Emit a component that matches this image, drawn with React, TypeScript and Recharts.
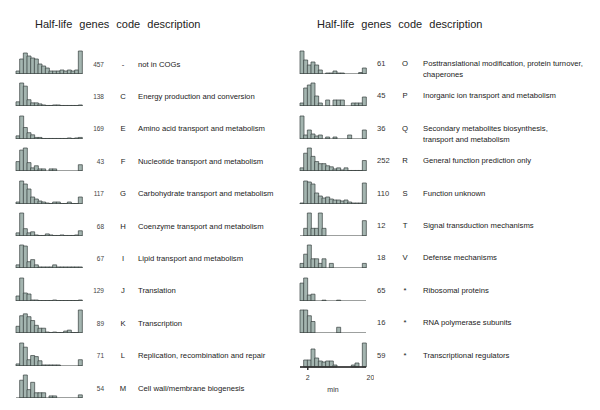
import { Bar, BarChart, ReferenceLine, XAxis, YAxis } from "recharts";

// bins of one minute, 2..20 min
const binStarts = [2, 3, 4, 5, 6, 7, 8, 9, 10, 11, 12, 13, 14, 15, 16, 17, 18, 19];

// left column
const notInCogs = [3, 15, 21, 18, 16, 15, 10, 8, 6, 3, 3, 3, 4, 3, 4, 3, 4, 23];
const energy = [4, 22, 19, 6, 3, 3, 2, 1, 0.5, 0.5, 1, 1, 0.5, 0.5, 0.5, 0.5, 0.5, 1];
const aminoAcid = [3, 22, 11, 6, 4, 1.5, 1.5, 0.5, 0.5, 0.5, 0.5, 0.5, 0.5, 0.5, 1, 0.5, 1, 1.5];
const nucleotide = [9, 20, 22, 8, 3, 5, 2, 2, 0, 2, 2, 0, 0, 0, 0, 0, 0, 6];
const carbohydrate = [2, 23, 20, 15, 7, 5, 3, 2, 1, 0.5, 2, 2, 0.5, 0.5, 2, 0.5, 0.5, 7];
const coenzyme = [3, 22, 7, 3, 4, 1, 0.5, 0.5, 2, 1, 0.5, 0.5, 1, 0.5, 0.5, 0.5, 1, 5];
const lipid = [3, 22, 21, 6, 8, 3, 1, 1, 1, 1, 3, 1, 1, 1, 1, 1, 1, 1];
const translation = [5, 23, 8, 7, 1, 1, 0.5, 0.5, 0.5, 0.5, 1, 0.5, 0.5, 0.5, 0.5, 0.5, 0.5, 1];
const transcription = [7, 18, 20, 17, 13, 8, 5, 5, 1, 0.5, 1, 0.5, 0.5, 2, 3, 0.5, 0.5, 24];
const replication = [2, 22, 18, 6, 10, 9, 5, 1, 1, 1, 1, 1, 0, 0, 0, 0, 0, 6];
const cellWall = [0, 17, 22, 8, 15, 5, 5, 5, 0, 2, 2, 0, 0, 0, 0, 0, 0, 3];

// right column
const posttranslational = [23, 14, 9, 12, 9, 4, 0, 1, 1, 3, 1, 1, 0, 0, 0, 0, 1.5, 6];
const inorganicIon = [3, 18, 21, 23, 10, 3, 0, 6, 0, 6, 6, 6, 0, 0, 3, 3, 3, 9];
const secondary = [23, 4, 9, 5, 3, 4, 0, 2, 0, 2, 0, 0, 0, 4, 0, 0, 0, 9];
const generalPrediction = [3, 17, 22, 14, 9, 7, 7, 5, 4, 2, 3, 1, 3, 0.5, 0.5, 0.5, 0.5, 10];
const functionUnknown = [1, 23, 22, 20, 11, 8, 6, 7, 5, 4, 4, 3, 4, 2, 1, 1, 1, 21];
const signal = [0, 1, 3, 1, 1, 3, 1, 0, 0, 0, 0, 0, 0, 0, 0, 0, 0, 2];
const defense = [1, 3, 5, 2, 2, 1, 2, 0, 1, 0, 0, 0, 0, 0, 0, 0, 0, 1];
const ribosomal = [21, 27, 7, 8, 0, 0, 1, 0, 0, 0, 1, 0, 0, 0, 0, 0, 0, 0];
const rnaPolymerase = [4, 4, 3, 2, 0, 0, 0, 0, 0, 0, 1, 0, 0, 0, 0, 0, 0, 0];
const regulators = [0, 7, 7, 18, 9, 6, 5, 6, 6, 2, 0, 0, 0, 0, 2, 4, 0, 24];

const leftCounts = ["457", "138", "169", "43", "117", "68", "67", "129", "89", "71", "54"];
const leftCodes = ["-", "C", "E", "F", "G", "H", "I", "J", "K", "L", "M"];
const leftDescriptions = [
  "not in COGs",
  "Energy production and conversion",
  "Amino acid transport and metabolism",
  "Nucleotide transport and metabolism",
  "Carbohydrate transport and metabolism",
  "Coenzyme transport and metabolism",
  "Lipid transport and metabolism",
  "Translation",
  "Transcription",
  "Replication, recombination and repair",
  "Cell wall/membrane biogenesis",
];
const leftBins = [notInCogs, energy, aminoAcid, nucleotide, carbohydrate, coenzyme, lipid, translation, transcription, replication, cellWall];

const rightCounts = ["61", "45", "36", "252", "110", "12", "18", "65", "16", "59"];
const rightCodes = ["O", "P", "Q", "R", "S", "T", "V", "*", "*", "*"];
const rightDescriptions = [
  ["Posttranslational modification, protein turnover,", "chaperones"],
  ["Inorganic ion transport and metabolism"],
  ["Secondary metabolites biosynthesis,", "transport and metabolism"],
  ["General function prediction only"],
  ["Function unknown"],
  ["Signal transduction mechanisms"],
  ["Defense mechanisms"],
  ["Ribosomal proteins"],
  ["RNA polymerase subunits"],
  ["Transcriptional regulators"],
];
const rightBins = [posttranslational, inorganicIon, secondary, generalPrediction, functionUnknown, signal, defense, ribosomal, rnaPolymerase, regulators];

const FONT = "'Liberation Sans', Arial, sans-serif";
const ROW0 = 74;
const ROW_STEP = 32.4;
const H = 24;
const PAD = 8;

function Histogram({ values, x, bottom, showAxis }: { values: number[]; x: number; bottom: number; showAxis?: boolean }) {
  const data = binStarts.map((b, i) => ({ bin: b, n: values[i] }));
  const h = showAxis ? H + 26 : H;
  return (
    <div style={{ position: "absolute", left: x - PAD, top: bottom - H, width: 66 + PAD * 2, height: h }}>
      <BarChart
        width={66 + PAD * 2}
        height={h}
        data={data}
        margin={{ top: 1, right: PAD, left: PAD, bottom: 0 }}
        barCategoryGap={0}
        barGap={0}
      >
        <XAxis dataKey="bin" hide height={0} />
        {showAxis && (
          <XAxis
            xAxisId="num"
            type="number"
            domain={[2, 20]}
            ticks={[2, 20]}
            tickSize={3}
            height={25}
            stroke="#333"
            strokeWidth={1.5}
            tick={{ fontSize: 7, fill: "#333", fontFamily: FONT, dy: 3 }}
            label={{ value: "min", position: "insideBottom", offset: 0, fontSize: 7, fill: "#333", fontFamily: FONT }}
          />
        )}
        <YAxis hide domain={[0, "dataMax"]} />
        <ReferenceLine y={0} stroke="#3a403e" strokeWidth={1} ifOverflow="extendDomain" />
        <Bar dataKey="n" fill="#a4b5b0" stroke="#38413f" strokeWidth={0.7} isAnimationActive={false} />
      </BarChart>
    </div>
  );
}

const textBase: React.CSSProperties = { position: "absolute", fontFamily: FONT, whiteSpace: "nowrap", lineHeight: "11px", color: "#222" };

export default function App() {
  return (
    <div style={{ position: "absolute", left: 0, top: 0, width: 600, height: 410, background: "#fff", fontFamily: FONT }}>
      <div style={{ ...textBase, left: 35, top: 17, fontSize: 11, lineHeight: "14px", wordSpacing: 4 }}>
        Half-life genes code description
      </div>
      <div style={{ ...textBase, left: 317, top: 17, fontSize: 11, lineHeight: "14px", wordSpacing: 4 }}>
        Half-life genes code description
      </div>

      {leftBins.map((vals, i) => {
        const bottom = ROW0 + i * ROW_STEP;
        const ty = bottom - 15.5;
        return (
          <div key={"l" + i}>
            <Histogram values={vals} x={16} bottom={bottom} />
            <div style={{ ...textBase, left: 84, width: 20, textAlign: "right", top: ty, fontSize: 6.5, color: "#444" }}>{leftCounts[i]}</div>
            <div style={{ ...textBase, left: 118, width: 10, textAlign: "center", top: ty, fontSize: 7.7 }}>{leftCodes[i]}</div>
            <div style={{ ...textBase, left: 138, top: ty, fontSize: 7.7 }}>{leftDescriptions[i]}</div>
          </div>
        );
      })}

      {rightBins.map((vals, i) => {
        const bottom = ROW0 + i * ROW_STEP;
        const ty = bottom - 16;
        return (
          <div key={"r" + i}>
            <Histogram values={vals} x={300} bottom={bottom} showAxis={i === rightBins.length - 1} />
            <div style={{ ...textBase, left: 377, top: ty, fontSize: 7.6, color: "#333" }}>{rightCounts[i]}</div>
            <div style={{ ...textBase, left: 400, width: 10, textAlign: "center", top: ty, fontSize: 7.7 }}>{rightCodes[i]}</div>
            <div style={{ ...textBase, left: 423, top: ty, fontSize: 7.7 }}>
              {rightDescriptions[i].map((line, j) => (
                <div key={j}>{line}</div>
              ))}
            </div>
          </div>
        );
      })}
    </div>
  );
}
